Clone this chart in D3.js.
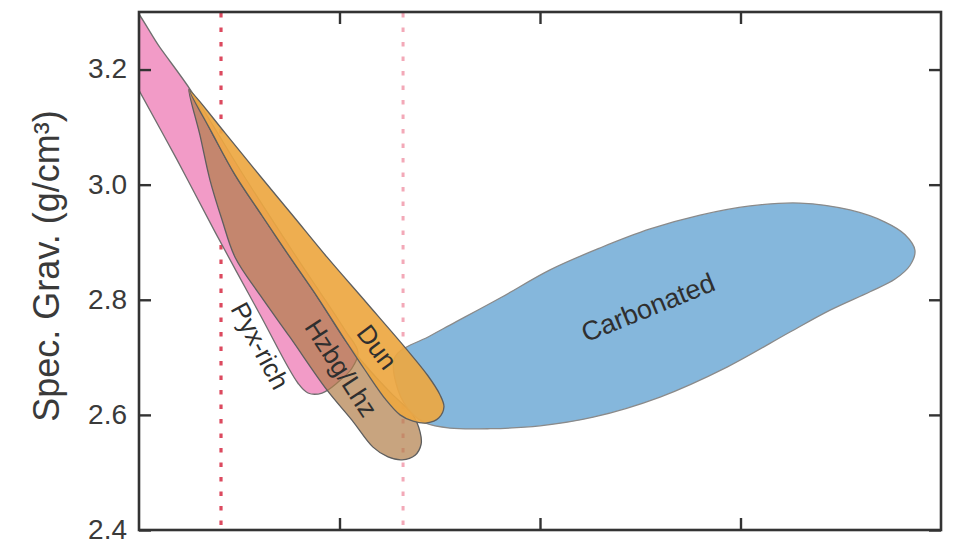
<!DOCTYPE html>
<html>
<head>
<meta charset="utf-8">
<script src="https://cdn.jsdelivr.net/npm/d3@7"></script>
<style>
  html, body { margin: 0; padding: 0; background: #fff; }
  svg { display: block; font-family: "Liberation Sans", Arial, Helvetica, sans-serif; }
</style>
</head>
<body>
<svg id="chart" width="960" height="542"></svg>
<script>
// Lithology fields in (index, specific gravity) space, traced as closed outlines
const pyxRich = [
  [-0.050, 3.314], [0.105, 3.238], [0.264, 3.161], [0.529, 3.012], [0.778, 2.878],
  [1.028, 2.747], [1.092, 2.709], [1.062, 2.681], [0.993, 2.657], [0.913, 2.638],
  [0.843, 2.638], [0.793, 2.655], [0.604, 2.774], [0.379, 2.918], [0.190, 3.043],
  [0.000, 3.164], [-0.050, 3.197]
];
const hzbgLhz = [
  [0.249, 3.166], [0.364, 3.090], [0.479, 3.017], [0.614, 2.946], [0.753, 2.874],
  [0.893, 2.803], [1.028, 2.730], [1.132, 2.685], [1.262, 2.636], [1.362, 2.602],
  [1.402, 2.570], [1.407, 2.549], [1.377, 2.530], [1.312, 2.522], [1.242, 2.527],
  [1.167, 2.544], [1.062, 2.591], [0.938, 2.643], [0.753, 2.735], [0.604, 2.808],
  [0.479, 2.874], [0.414, 2.939], [0.354, 3.008], [0.304, 3.086]
];
const dunite = [
  [0.254, 3.163], [0.429, 3.090], [0.604, 3.015], [0.768, 2.946], [0.938, 2.874],
  [1.137, 2.794], [1.337, 2.713], [1.441, 2.668], [1.501, 2.635], [1.521, 2.614],
  [1.496, 2.595], [1.436, 2.586], [1.367, 2.589], [1.302, 2.600], [1.232, 2.626],
  [1.127, 2.678], [1.028, 2.730], [0.893, 2.803], [0.753, 2.874], [0.614, 2.946],
  [0.479, 3.017], [0.364, 3.090]
];
const carbonated = [
  [1.277, 2.701], [1.451, 2.737], [1.551, 2.756], [1.801, 2.803], [2.050, 2.852],
  [2.299, 2.890], [2.549, 2.923], [2.798, 2.947], [3.048, 2.963], [3.297, 2.968],
  [3.546, 2.956], [3.721, 2.935], [3.821, 2.913], [3.870, 2.886], [3.846, 2.860],
  [3.771, 2.836], [3.646, 2.814], [3.447, 2.782], [3.247, 2.744], [2.933, 2.683],
  [2.599, 2.631], [2.265, 2.596], [2.000, 2.581], [1.751, 2.576], [1.551, 2.577],
  [1.427, 2.586], [1.362, 2.602], [1.292, 2.643]
];

// Field names and where each is written
const fieldNames = ["Pyx-rich", "Hzbg/Lhz", "Dun", "Carbonated"];
const fieldLabelX = [0.604, 1.008, 1.187, 2.539];
const fieldLabelY = [2.720, 2.681, 2.718, 2.786];

// Reference cut-offs along the horizontal axis
const cutoffs = [0.409, 1.317];

// Axis ticks
const yTicks = [2.4, 2.6, 2.8, 3.0, 3.2];
const xTicks = [1, 2, 3];
const yTitle = "Spec. Grav. (g/cm³)";

const margin = { top: 12, right: 19, bottom: 12, left: 139 };
const W = 960, H = 542;
const iw = W - margin.left - margin.right;
const ih = H - margin.top - margin.bottom;

const svg = d3.select("#chart");
const x = d3.scaleLinear().domain([0, 4]).range([0, iw]);
const y = d3.scaleLinear().domain([2.4, 3.3]).range([ih, 0]);

const g = svg.append("g").attr("transform", `translate(${margin.left},${margin.top})`);

g.append("defs").append("clipPath").attr("id", "plot-clip")
  .append("rect").attr("width", iw).attr("height", ih);

const plot = g.append("g").attr("clip-path", "url(#plot-clip)");

// dotted cut-off lines
const cutStyles = [
  { color: "#dc4a5f", width: 3.2 },
  { color: "#f3a9b8", width: 3 }
];
plot.selectAll("line.cut").data(cutoffs).join("line")
  .attr("class", "cut")
  .attr("x1", d => x(d)).attr("x2", d => x(d))
  .attr("y1", 1).attr("y2", ih)
  .attr("stroke", (d, i) => cutStyles[i].color)
  .attr("stroke-width", (d, i) => cutStyles[i].width)
  .attr("stroke-dasharray", "4.5 10");

const outline = d3.line()
  .x(d => x(d[0])).y(d => y(d[1]))
  .curve(d3.curveCatmullRomClosed.alpha(0.5));

const fields = [
  { pts: pyxRich,    fill: "#f29bc7", opacity: 1,    stroke: "#6e6e6e" },
  { pts: hzbgLhz,    fill: "#b07d48", opacity: 0.7,  stroke: "#5e5e5e" },
  { pts: carbonated, fill: "#85b7dc", opacity: 1,    stroke: "#8a8a8a" },
  { pts: dunite,     fill: "#eda741", opacity: 0.92, stroke: "#5e5e5e" }
];
plot.selectAll("path.field").data(fields).join("path")
  .attr("class", "field")
  .attr("d", d => outline(d.pts))
  .attr("fill", d => d.fill)
  .attr("fill-opacity", d => d.opacity)
  .attr("stroke", d => d.stroke)
  .attr("stroke-width", 1.3)
  .attr("stroke-linejoin", "round");

// field labels
const labelAngles = [62, 57, 53, -22];
const labelSizes = [26, 26, 26, 27];
plot.selectAll("text.field-label").data(fieldNames).join("text")
  .attr("class", "field-label")
  .attr("transform", (d, i) => `translate(${x(fieldLabelX[i])},${y(fieldLabelY[i])}) rotate(${labelAngles[i]})`)
  .attr("text-anchor", "middle")
  .attr("dominant-baseline", "central")
  .attr("font-size", (d, i) => labelSizes[i])
  .attr("fill", "#2f2f2f")
  .text(d => d);

// axes with inward ticks on all four sides
const tickLen = 12;
const axisStyle = sel => {
  sel.select(".domain").remove();
  sel.selectAll(".tick line").attr("stroke", "#333").attr("stroke-width", 2.4);
};
g.append("g")
  .call(d3.axisLeft(y).tickValues(yTicks).tickSize(-tickLen).tickSizeOuter(0).tickPadding(12).tickFormat(d3.format(".1f")))
  .call(axisStyle)
  .call(s => s.selectAll(".tick text").attr("font-size", 28).attr("fill", "#3a3a3a").attr("dy", "0.3em")
    .attr("font-family", "\"Liberation Sans\", Arial, sans-serif"));
g.append("g").attr("transform", `translate(${iw},0)`)
  .call(d3.axisRight(y).tickValues(yTicks).tickSize(-tickLen).tickFormat(""))
  .call(axisStyle);
g.append("g").attr("transform", `translate(0,${ih})`)
  .call(d3.axisBottom(x).tickValues(xTicks).tickSize(-tickLen).tickFormat(""))
  .call(axisStyle);
g.append("g")
  .call(d3.axisTop(x).tickValues(xTicks).tickSize(-tickLen).tickFormat(""))
  .call(axisStyle);

// frame
g.append("rect")
  .attr("width", iw).attr("height", ih)
  .attr("fill", "none").attr("stroke", "#333").attr("stroke-width", 2.6);

// y-axis title
svg.append("text")
  .attr("transform", `translate(46,${margin.top + ih / 2 - 5}) rotate(-90)`)
  .attr("text-anchor", "middle")
  .attr("dominant-baseline", "central")
  .attr("font-size", 36)
  .attr("fill", "#3a3a3a")
  .text(yTitle);
</script>
</body>
</html>
